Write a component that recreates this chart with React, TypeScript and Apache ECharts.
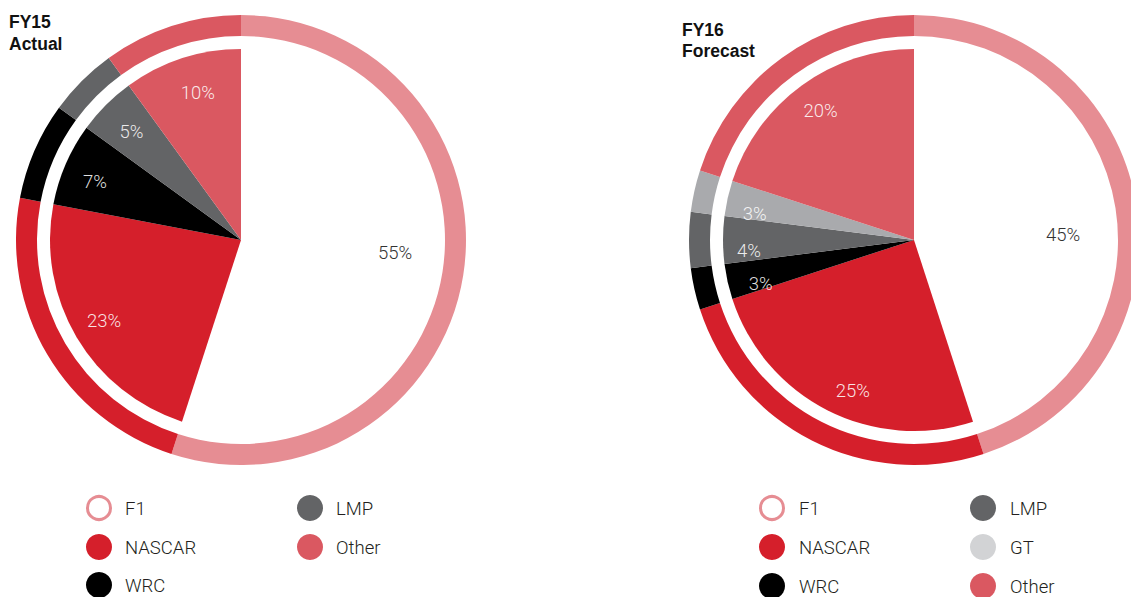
import React, { useEffect, useRef } from "react";
import * as echarts from "echarts";

// ---- Data ----
const fy15Title = ["FY15", "Actual"];
const fy15Names = ["F1", "NASCAR", "WRC", "LMP", "Other"];
const fy15Values = [55, 23, 7, 5, 10];

const fy16Title = ["FY16", "Forecast"];
const fy16Names = ["F1", "NASCAR", "WRC", "LMP", "GT", "Other"];
const fy16Values = [45, 25, 3, 4, 3, 20];

const fy15LegendCols = [["F1", "NASCAR", "WRC"], ["LMP", "Other"]];
const fy16LegendCols = [["F1", "NASCAR", "WRC"], ["LMP", "GT", "Other"]];

// ---- Styles ----
const ringColors: Record<string, string> = {
  F1: "#e68d93",
  NASCAR: "#d51f2b",
  WRC: "#000000",
  LMP: "#636466",
  GT: "#a9aaad",
  Other: "#da5861",
};
const pieColors: Record<string, string> = { ...ringColors, F1: "#ffffff" };
const legendColors: Record<string, string> = { ...ringColors, GT: "#d2d3d5" };

// small label nudges (style only)
const fy15LabelNudge = [[-3, -12], [0, 0], [0, 5], [3, 4], [6, 4]];
const fy16LabelNudge = [[-8, 20], [11, 9], [2, 9], [-6, 11], [-4, 9], [0, 0]];

const LABEL_FONT = "Roboto, 'Liberation Sans', sans-serif";
const TITLE_FONT = "'Liberation Sans', Arial, sans-serif";

function buildSeries(names: string[], values: number[], center: number[], nudge: number[][]) {
  const ring = {
    type: "pie",
    center,
    radius: [204, 225],
    startAngle: 90,
    silent: true,
    label: { show: false },
    labelLine: { show: false },
    data: names.map((n, i) => ({ name: n, value: values[i], itemStyle: { color: ringColors[n] } })),
  };
  const pie = {
    type: "pie",
    center,
    radius: [0, 191],
    startAngle: 90,
    silent: true,
    label: { show: false },
    labelLine: { show: false },
    data: names.map((n, i) => ({ name: n, value: values[i], itemStyle: { color: pieColors[n] } })),
  };
  const labels = {
    type: "pie",
    center,
    radius: [122, 190],
    startAngle: 90,
    silent: true,
    z: 5,
    itemStyle: { color: "rgba(0,0,0,0)" },
    labelLine: { show: false },
    labelLayout: (p: any) => {
      const d = nudge[p.dataIndex] || [0, 0];
      return { dx: d[0], dy: d[1] };
    },
    label: {
      show: true,
      position: "inside",
      formatter: "{c}%",
      fontFamily: LABEL_FONT,
      fontWeight: 300,
      fontSize: 18.5,
    },
    data: names.map((n, i) => ({
      name: n,
      value: values[i],
      label: { color: n === "F1" ? "#333333" : "rgba(255,255,255,0.88)" },
    })),
  };
  return [ring, pie, labels];
}

function buildLegend(cols: string[][], colIconX: number[], textOffset: number, rowY: number[]) {
  const els: any[] = [];
  cols.forEach((col, ci) => {
    col.forEach((name, ri) => {
      const cx = colIconX[ci];
      const cy = rowY[ri];
      const hollow = name === "F1";
      els.push({
        type: "circle",
        shape: { cx, cy, r: hollow ? 11.5 : 13 },
        style: hollow
          ? { fill: "#ffffff", stroke: legendColors[name], lineWidth: 3 }
          : { fill: legendColors[name] },
      });
      els.push({
        type: "text",
        x: cx + textOffset,
        y: cy + 1,
        style: {
          text: name,
          fill: "#231f20",
          fontFamily: LABEL_FONT,
          fontWeight: 300,
          fontSize: 18.5,
          verticalAlign: "middle",
        },
      });
    });
  });
  return els;
}

function titleEls(lines: string[], x: number, y0: number) {
  return lines.map((t, i) => ({
    type: "text",
    x,
    y: y0 + i * 21.5,
    style: {
      text: t,
      fill: "#111111",
      fontFamily: TITLE_FONT,
      fontWeight: "bold",
      fontSize: 17.5,
      verticalAlign: "middle",
    },
  }));
}

export default function App() {
  const ref = useRef<HTMLDivElement>(null);
  useEffect(() => {
    document.body.style.margin = "0";
    if (!ref.current) return;
    const chart = echarts.init(ref.current, null, { renderer: "svg" });
    chart.setOption({
      animation: false,
      backgroundColor: "#ffffff",
      series: [
        ...buildSeries(fy15Names, fy15Values, [241, 240], fy15LabelNudge),
        ...buildSeries(fy16Names, fy16Values, [914, 240], fy16LabelNudge),
      ],
      graphic: [
        ...titleEls(fy15Title, 9, 22),
        ...titleEls(fy16Title, 682, 29.5),
        ...buildLegend(fy15LegendCols, [99, 310], 26, [508, 547, 585]),
        ...buildLegend(fy16LegendCols, [772, 983], 27, [508, 547, 586]),
      ],
    });
    return () => chart.dispose();
  }, []);
  return <div ref={ref} style={{ width: 1131, height: 597 }} />;
}
